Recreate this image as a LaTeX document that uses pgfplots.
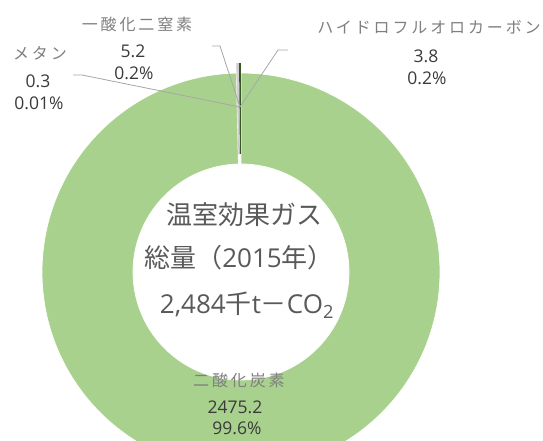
\documentclass[border=0pt]{standalone}
\usepackage{pgfplots}
\pgfplotsset{compat=1.18}
\usepackage{pgfplotstable}
\usetikzlibrary{calc}
\usepackage{fontspec}
\setmainfont{Open Sans}
\newfontfamily\jp{Noto Sans CJK JP}
\newfontfamily\jpsp[LetterSpace=18]{Noto Sans CJK JP}
\definecolor{ringgreen}{HTML}{A9D18E}
\definecolor{slgray}{HTML}{D0CECE}
\definecolor{slgreen}{HTML}{375623}
\definecolor{leader}{HTML}{A6A6A6}
\definecolor{catc}{HTML}{7F7F7F}
\definecolor{numc}{HTML}{3A3A3A}
\definecolor{ctrc}{HTML}{595959}

\pgfplotstableread{
gas value
CO2 2475.2
CH4 0.3
N2O 5.2
HFC 3.8
}\ghg

\newcommand\sector[5]{%
  \fill[#1] ($(axis cs:\cx,\cy)+(#4:#5pt)+(#2:\ro pt)$) arc[start angle=#2,end angle=#3,radius=\ro pt]
    -- ($(axis cs:\cx,\cy)+(#4:#5pt)+(#3:\ri pt)$) arc[start angle=#3,end angle=#2,radius=\ri pt] -- cycle;}

\begin{document}
\begin{tikzpicture}
\useasboundingbox (0,0) rectangle (543pt,441pt);
\clip (0,0) rectangle (543pt,441pt);
\pgfplotstablegetelem{0}{value}\of\ghg \edef\vA{\pgfplotsretval}
\pgfplotstablegetelem{1}{value}\of\ghg \edef\vB{\pgfplotsretval}
\pgfplotstablegetelem{2}{value}\of\ghg \edef\vC{\pgfplotsretval}
\pgfplotstablegetelem{3}{value}\of\ghg \edef\vD{\pgfplotsretval}
\pgfmathsetmacro\tot{\vA+\vB+\vC+\vD}
\pgfmathsetmacro\aA{90-(\vA/\tot)*360}
\pgfmathsetmacro\aB{\aA-(\vB/\tot)*360}
\pgfmathsetmacro\aC{\aB-(\vC/\tot)*360}
\pgfmathsetmacro\aD{\aC-(\vD/\tot)*360}
\pgfmathsetmacro\mB{(\aA+\aB)/2}
\pgfmathsetmacro\mC{(\aB+\aC)/2}
\pgfmathsetmacro\mD{(\aC+\aD)/2}
\def\cx{241}\def\cy{169}\def\ro{199}\def\ri{108}
\begin{axis}[at={(0,0)},anchor=south west,scale only axis,width=543pt,height=441pt,
  xmin=0,xmax=543,ymin=0,ymax=441,hide axis,clip=false]
\fill[ringgreen,draw=white,line width=0.75pt] ($(axis cs:\cx,\cy)+(90:\ro pt)$) arc[start angle=90,end angle=\aA,radius=\ro pt]
    -- ($(axis cs:\cx,\cy)+(\aA:\ri pt)$) arc[start angle=\aA,end angle=90,radius=\ri pt] -- cycle;
\sector{slgray}{\aA}{\aB}{\mB}{10}
\sector{slgray}{\aB}{\aC}{\mC}{10}
\sector{slgreen}{\aC}{\aD}{\mD}{10}
\addplot[leader,line width=0.8pt,no marks] coordinates {(73,366) (82,366) (240,334)};
\addplot[leader,line width=0.8pt,no marks] coordinates {(212,395) (220,395) (240,334)};
\addplot[leader,line width=0.8pt,no marks] coordinates {(288,391) (278,391) (240,334)};
% labels
\node[catc,font=\fontsize{16}{19}\selectfont\jpsp] at (axis cs:137,417) {一酸化二窒素};
\node[numc,font=\fontsize{17.5}{20}\selectfont] at (axis cs:133,390) {5.2};
\node[numc,font=\fontsize{17.5}{20}\selectfont] at (axis cs:134,368) {0.2\%};
\node[catc,font=\fontsize{16}{19}\selectfont\jpsp] at (axis cs:40,388) {メタン};
\node[numc,font=\fontsize{17.5}{20}\selectfont] at (axis cs:38,360) {0.3};
\node[numc,font=\fontsize{17.5}{20}\selectfont] at (axis cs:39,338) {0.01\%};
\node[catc,font=\fontsize{16}{19}\selectfont\jpsp] at (axis cs:429,414) {ハイドロフルオロカーボン};
\node[numc,font=\fontsize{17.5}{20}\selectfont] at (axis cs:426,385) {3.8};
\node[numc,font=\fontsize{17.5}{20}\selectfont] at (axis cs:427,363) {0.2\%};
\node[catc,font=\fontsize{16}{19}\selectfont\jpsp] at (axis cs:239,61) {二酸化炭素};
\node[numc,font=\fontsize{17.5}{20}\selectfont] at (axis cs:235,34) {2475.2};
\node[numc,font=\fontsize{17.5}{20}\selectfont] at (axis cs:237,13) {99.6\%};
% centre
\node[ctrc,font=\fontsize{26}{30}\selectfont\jp] at (axis cs:244,226) {温室効果ガス};
\node[ctrc,font=\fontsize{26}{30}\selectfont] at (axis cs:239,183) {{\jp 総量（}2015{\jp 年）}};
\node[ctrc,font=\fontsize{26}{30}\selectfont] at (axis cs:247,136) {2,484{\jp 千}t{\jp －}CO\textsubscript{2}};
\end{axis}
\end{tikzpicture}
\end{document}
